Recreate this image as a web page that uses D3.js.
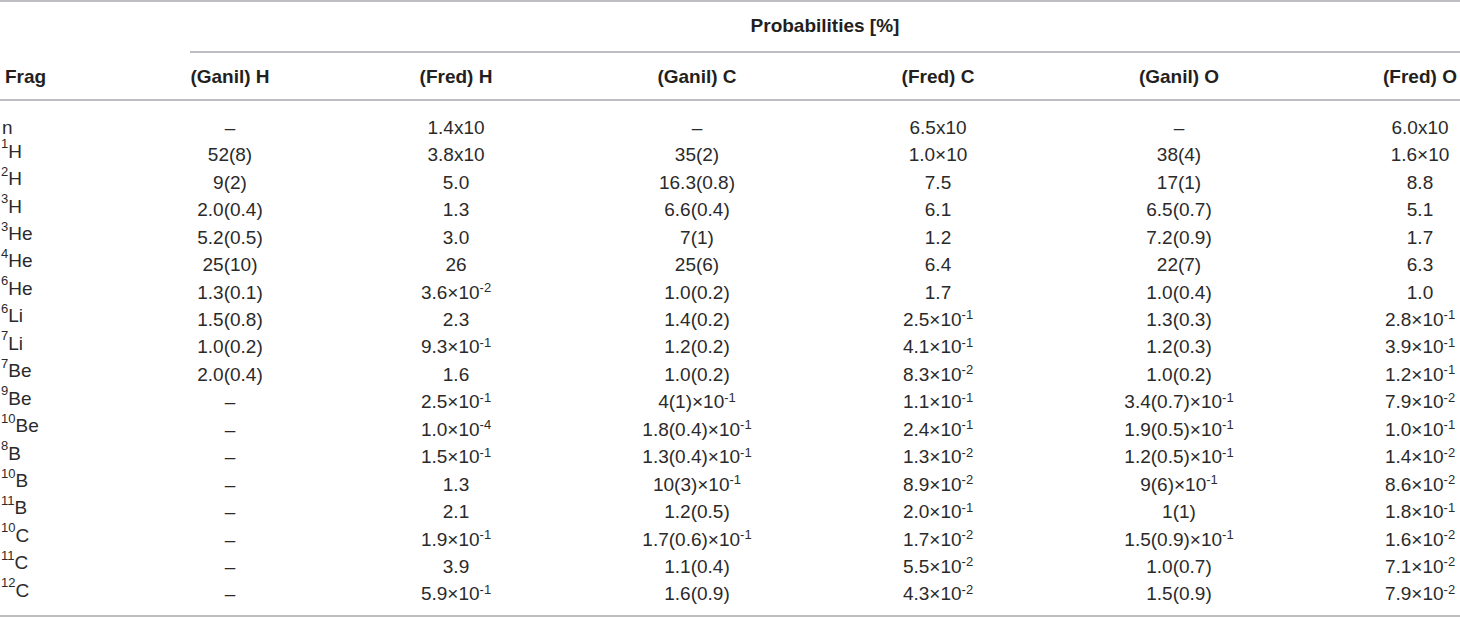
<!doctype html>
<html>
<head>
<meta charset="utf-8">
<style>
body{
  margin:0;
  background-color:#ffffff;
}
.txt{
  font-family:"Liberation Sans", Arial, sans-serif;
  font-size:19px;
  fill:#2b2a2b;
}
.hdr{
  font-family:"Liberation Sans", Arial, sans-serif;
  font-size:19px;
  font-weight:bold;
  fill:#231f20;
}
.rule{
  stroke:#a7a9ac;
  stroke-width:1.5;
}
</style>
<script src="https://d3js.org/d3.v7.min.js"></script>
</head>
<body>
<svg width="1460" height="618"></svg>
<script>
// table content, "^" marks a superscript
var title = "Probabilities [%]";
var columns = ["Frag", "(Ganil) H", "(Fred) H", "(Ganil) C", "(Fred) C", "(Ganil) O", "(Fred) O"];
var massNumbers = ["", "1", "2", "3", "3", "4", "6", "6", "7", "7", "9", "10", "8", "10", "11", "10", "11", "12"];
var elements = ["n", "H", "H", "H", "He", "He", "He", "Li", "Li", "Be", "Be", "Be", "B", "B", "B", "C", "C", "C"];

var ganilH = ["–", "52(8)", "9(2)", "2.0(0.4)", "5.2(0.5)", "25(10)", "1.3(0.1)", "1.5(0.8)", "1.0(0.2)", "2.0(0.4)",
              "–", "–", "–", "–", "–", "–", "–", "–"];
var fredH = ["1.4x10", "3.8x10", "5.0", "1.3", "3.0", "26", "3.6×10^-2", "2.3", "9.3×10^-1", "1.6",
             "2.5×10^-1", "1.0×10^-4", "1.5×10^-1", "1.3", "2.1", "1.9×10^-1", "3.9", "5.9×10^-1"];
var ganilC = ["–", "35(2)", "16.3(0.8)", "6.6(0.4)", "7(1)", "25(6)", "1.0(0.2)", "1.4(0.2)", "1.2(0.2)", "1.0(0.2)",
              "4(1)×10^-1", "1.8(0.4)×10^-1", "1.3(0.4)×10^-1", "10(3)×10^-1", "1.2(0.5)", "1.7(0.6)×10^-1", "1.1(0.4)", "1.6(0.9)"];
var fredC = ["6.5x10", "1.0×10", "7.5", "6.1", "1.2", "6.4", "1.7", "2.5×10^-1", "4.1×10^-1", "8.3×10^-2",
             "1.1×10^-1", "2.4×10^-1", "1.3×10^-2", "8.9×10^-2", "2.0×10^-1", "1.7×10^-2", "5.5×10^-2", "4.3×10^-2"];
var ganilO = ["–", "38(4)", "17(1)", "6.5(0.7)", "7.2(0.9)", "22(7)", "1.0(0.4)", "1.3(0.3)", "1.2(0.3)", "1.0(0.2)",
              "3.4(0.7)×10^-1", "1.9(0.5)×10^-1", "1.2(0.5)×10^-1", "9(6)×10^-1", "1(1)", "1.5(0.9)×10^-1", "1.0(0.7)", "1.5(0.9)"];
var fredO = ["6.0x10", "1.6×10", "8.8", "5.1", "1.7", "6.3", "1.0", "2.8×10^-1", "3.9×10^-1", "1.2×10^-1",
             "7.9×10^-2", "1.0×10^-1", "1.4×10^-2", "8.6×10^-2", "1.8×10^-1", "1.6×10^-2", "7.1×10^-2", "7.9×10^-2"];

var valueCols = [ganilH, fredH, ganilC, fredC, ganilO, fredO];

var svg = d3.select("svg"),
    width = +svg.attr("width"),
    height = +svg.attr("height");

var rowIdx = d3.range(elements.length);

var y = d3.scaleBand()
    .domain(rowIdx)
    .range([113.5, 607.5]);

// centres of the value columns (first one a bit closer to Frag)
var x = d3.scaleOrdinal()
    .domain(columns.slice(1))
    .range([230, 456, 697, 938, 1179, 1420]);

// rules
svg.append("line").attr("class", "rule")
    .attr("x1", 0).attr("x2", width).attr("y1", 1).attr("y2", 1);
svg.append("line").attr("class", "rule")
    .attr("x1", 190).attr("x2", width).attr("y1", 52).attr("y2", 52);
svg.append("line").attr("class", "rule")
    .attr("x1", 0).attr("x2", width).attr("y1", 100).attr("y2", 100);
svg.append("line").attr("class", "rule")
    .attr("x1", 0).attr("x2", width).attr("y1", 616).attr("y2", 616);

svg.append("text")
    .attr("class", "hdr")
    .attr("x", 825)
    .attr("y", 25)
    .attr("dy", "0.35em")
    .attr("text-anchor", "middle")
    .text(title);

svg.append("text")
    .attr("class", "hdr")
    .attr("x", 5)
    .attr("y", 76)
    .attr("dy", "0.35em")
    .text(columns[0]);

svg.selectAll(".colhdr")
    .data(columns.slice(1))
    .enter()
    .append("text")
    .attr("class", "hdr colhdr")
    .attr("x", function(d) { return x(d); })
    .attr("y", 76)
    .attr("dy", "0.35em")
    .attr("text-anchor", "middle")
    .text(function(d) { return d; });

// write a string where "^" starts a superscript
function writeSup(sel, str) {
  var parts = str.split("^");
  sel.append("tspan").text(parts[0]);
  if (parts.length > 1) {
    sel.append("tspan")
      .attr("font-size", "13px")
      .attr("dy", "-0.5em")
      .text(parts[1]);
  }
}

// fragment column
var frag = svg.selectAll(".frag")
    .data(rowIdx)
    .enter()
    .append("text")
    .attr("class", "txt frag")
    .attr("x", 1)
    .attr("y", function(i) { return y(i) + y.bandwidth() / 2; })
    .attr("dy", "0.35em");

frag.each(function(i) {
  var t = d3.select(this);
  if (massNumbers[i] != "") {
    t.append("tspan")
      .attr("font-size", "13px")
      .attr("dy", "-0.5em")
      .text(massNumbers[i]);
    t.append("tspan").attr("dy", "0.5em").text(elements[i]);
  } else {
    t.append("tspan").attr("dx", 1).text(elements[i]);
  }
});

// value columns
valueCols.forEach(function(vals, c) {
  svg.selectAll(".v" + c)
    .data(vals)
    .enter()
    .append("text")
    .attr("class", "txt v" + c)
    .attr("x", x(columns[c + 1]))
    .attr("y", function(d, i) { return y(i) + y.bandwidth() / 2; })
    .attr("dy", "0.35em")
    .attr("text-anchor", "middle")
    .each(function(d) { writeSup(d3.select(this), d); });
});
</script>
</body>
</html>
